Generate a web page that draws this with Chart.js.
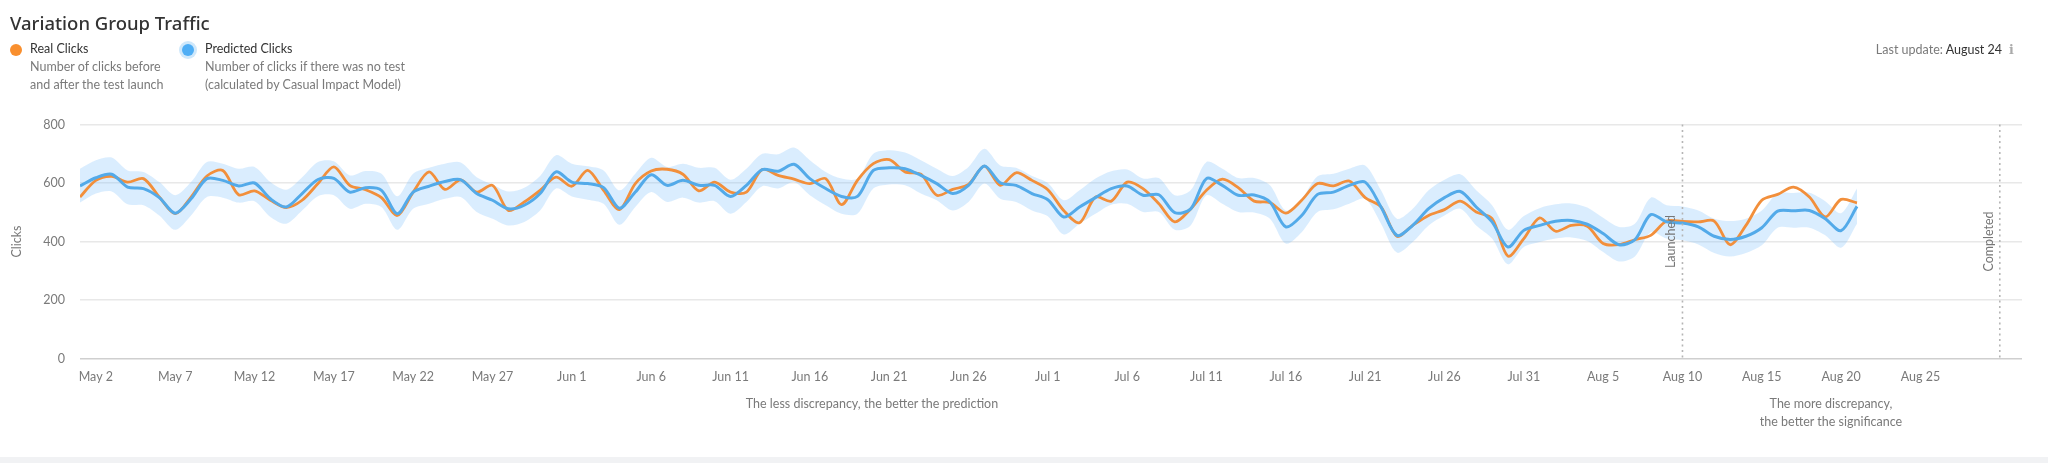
<!DOCTYPE html>
<html><head><meta charset="utf-8">
<script src="https://cdn.jsdelivr.net/npm/chart.js@4"></script>
<style>
html,body{margin:0;padding:0;background:#fff;width:2048px;height:463px;overflow:hidden;font-family:Lato,sans-serif}
#c{position:absolute;left:0;top:0}
.t{position:absolute;white-space:nowrap;font-size:12.5px;line-height:18px;color:#7a7a7a}
.d{position:absolute;border-radius:50%;width:12px;height:12px}
#foot{position:absolute;left:0;top:457px;width:2048px;height:6px;background:#f1f2f4}
</style></head><body>
<canvas id="c" width="2048" height="463" style="width:2048px;height:463px"></canvas>
<div class="t" style="left:10px;top:9px;font-family:'Noto Sans',sans-serif;font-size:18.5px;line-height:28px;color:#333;font-weight:500">Variation Group Traffic</div>
<div class="d" style="left:10px;top:44px;background:#f98f2e"></div>
<div class="t" style="left:30px;top:40px;color:#333">Real Clicks</div>
<div class="t" style="left:30px;top:58px">Number of clicks before<br>and after the test launch</div>
<div class="d" style="left:182px;top:44px;background:#4faef5;box-shadow:0 0 0 3px #cfe8fb"></div>
<div class="t" style="left:205px;top:40px;color:#333">Predicted Clicks</div>
<div class="t" style="left:205px;top:58px">Number of clicks if there was no test<br>(calculated by Casual Impact Model)</div>
<div class="t" style="right:46px;top:41px">Last update: <span style="color:#333">August 24</span></div>
<div class="t" style="left:2009px;top:41px;color:#aaa;font-family:'DejaVu Serif',serif;font-weight:700">i</div>
<div class="t" style="left:672px;width:400px;text-align:center;top:395px">The less discrepancy, the better the prediction</div>
<div class="t" style="left:1631px;width:400px;text-align:center;top:395px">The more discrepancy,<br>the better the significance</div>
<div id="foot"></div>
<script>
const realClicks = [552,609,623,603,615,552,495,552,624,643,560,573,541,516,541,598,655,592,577,550,489,569,638,578,611,569,592,506,535,575,
620,589,643,575,509,598,641,647,630,573,603,569,569,646,626,613,598,615,526,609,666,680,638,630,558,578,595,658,592,635,609,
577,506,464,552,538,603,581,529,467,511,575,613,584,538,533,497,541,598,590,607,550,518,418,455,489,509,538,501,478,350,410,
481,435,455,452,393,389,406,421,470,469,467,470,389,455,541,561,586,552,484,544,532];
const predictedClicks = [590,618,630,586,581,550,497,546,615,609,590,600,546,518,564,612,616,569,584,575,495,569,589,605,611,564,541,512,524,564,
638,603,598,584,514,569,628,592,609,592,592,554,592,646,640,664,615,581,554,554,643,652,649,626,598,564,592,658,601,592,564,
543,484,518,550,581,590,558,560,499,511,615,592,558,559,535,450,489,561,569,592,603,518,421,455,512,550,571,518,467,381,438,
455,469,472,459,427,389,406,492,467,463,450,418,407,418,447,504,505,506,478,437,520];
const upperBound = [649,678,687,643,638,603,558,603,672,666,649,655,603,577,620,672,674,626,641,632,555,632,652,666,670,620,595,571,584,624,
695,666,657,643,575,632,686,655,666,652,652,611,649,700,698,721,678,638,615,615,700,712,704,678,649,624,655,717,660,652,624,
600,541,575,615,640,646,615,617,558,575,672,649,617,617,592,506,546,623,632,649,660,575,478,512,575,611,630,575,524,440,487,
514,527,530,516,481,450,461,550,524,520,506,478,470,478,506,564,566,567,538,497,581];
const lowerBound = [533,564,571,527,524,489,440,489,552,550,533,538,484,461,506,555,558,512,529,518,440,512,529,546,552,501,478,455,467,506,
581,554,543,529,457,518,569,535,550,533,538,495,535,589,581,603,558,524,495,495,581,595,592,564,541,506,535,598,546,535,506,
486,424,461,495,526,529,501,501,440,455,558,529,501,499,478,393,432,501,510,529,546,461,362,398,455,489,512,455,410,322,381,
398,410,414,402,364,332,349,432,410,404,390,361,349,361,387,447,447,447,421,379,461];
const tickLabels = ["May 2","May 7","May 12","May 17","May 22","May 27","Jun 1","Jun 6","Jun 11","Jun 16","Jun 21","Jun 26","Jul 1","Jul 6","Jul 11","Jul 16","Jul 21","Jul 26","Jul 31","Aug 5","Aug 10","Aug 15","Aug 20","Aug 25"];
const tickDays = [1,6,11,16,21,26,31,36,41,46,51,56,61,66,71,76,81,86,91,96,101,106,111,116];
const markerLabels = ["Launched","Completed"];
const markerDays = [101,121];

const pts = arr => arr.map((y, d) => ({x: d, y}));
const tickMap = new Map(tickDays.map((d, i) => [d, tickLabels[i]]));
const FONT = 'Lato';

const markers = {
  id: 'markers',
  afterDatasetsDraw(chart) {
    const {ctx, scales: {x}, chartArea: a} = chart;
    ctx.save();
    markerDays.forEach((d, i) => {
      const px = x.getPixelForValue(d);
      ctx.beginPath();
      ctx.setLineDash([2, 3.5]);
      ctx.lineWidth = 1.6;
      ctx.strokeStyle = '#b5b5b5';
      ctx.moveTo(px, a.top);
      ctx.lineTo(px, a.bottom);
      ctx.stroke();
      ctx.setLineDash([]);
      ctx.save();
      ctx.translate(px - 11, (a.top + a.bottom) / 2);
      ctx.rotate(-Math.PI / 2);
      ctx.font = '12.5px ' + FONT;
      ctx.fillStyle = '#777';
      ctx.textAlign = 'center';
      ctx.textBaseline = 'middle';
      ctx.fillText(markerLabels[i], 0, 0);
      ctx.restore();
    });
    ctx.restore();
  }
};

const lineBase = {pointRadius: 0, pointHoverRadius: 0, tension: 0.3};
new Chart(document.getElementById('c'), {
  type: 'line',
  data: {datasets: [
    {...lineBase, label: 'Predicted Clicks', data: pts(predictedClicks), borderColor: '#53aae9', borderWidth: 3, fill: false},
    {...lineBase, label: 'Real Clicks', data: pts(realClicks), borderColor: '#f28f3b', borderWidth: 2.8, fill: false},
    {...lineBase, label: 'Upper', data: pts(upperBound), borderWidth: 0, borderColor: 'transparent', backgroundColor: 'rgba(120,190,250,0.27)', fill: '+1'},
    {...lineBase, label: 'Lower', data: pts(lowerBound), borderWidth: 0, borderColor: 'transparent', fill: false}
  ]},
  plugins: [markers],
  options: {
    responsive: false,
    animation: false,
    layout: {padding: {top: 124.5, right: 26, left: 0, bottom: 0}},
    plugins: {legend: {display: false}, tooltip: {enabled: false}},
    scales: {
      x: {
        type: 'linear', min: 0, max: 122.4,
        afterFit(s) { s.height = 104.5; },
        afterBuildTicks(s) { s.ticks = tickDays.map(d => ({value: d})); },
        grid: {display: false},
        border: {display: false},
        ticks: {autoSkip: false, maxRotation: 0, padding: 3, color: '#7a7a7a', font: {size: 12.5, family: FONT},
          callback: v => tickMap.get(v) ?? ''}
      },
      y: {
        min: 0, max: 800,
        afterFit(s) { s.width = 80; },
        title: {display: true, text: 'Clicks', color: '#7a7a7a', font: {size: 12.5, family: FONT}, padding: {top: 9, bottom: 12}},
        grid: {drawTicks: false, lineWidth: 1.5, color: c => c.tick.value === 0 ? '#cfcfcf' : '#e8e8e8'},
        border: {display: false},
        ticks: {stepSize: 200, padding: 15, color: '#7a7a7a', font: {size: 12.5, family: FONT}}
      }
    }
  }
});
</script>
</body></html>
